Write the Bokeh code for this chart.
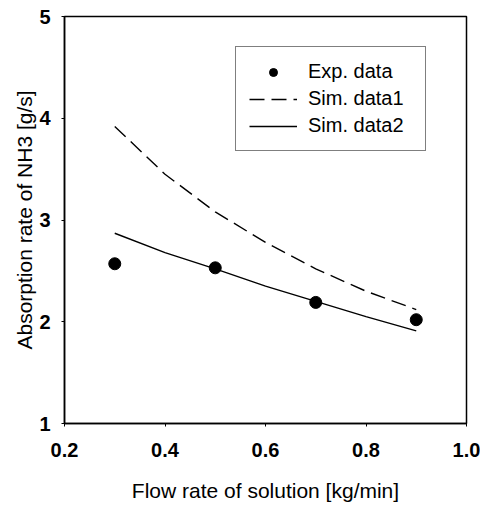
from bokeh.plotting import figure
from bokeh.models import Range1d, Legend, LegendItem, FixedTicker
from bokeh.embed import file_html
from bokeh.resources import INLINE

# Data
exp_x = [0.3, 0.5, 0.7, 0.9]
exp_y = [2.57, 2.53, 2.19, 2.02]
sim_x = [0.3, 0.4, 0.5, 0.6, 0.7, 0.8, 0.9]
sim1_y = [3.92, 3.45, 3.08, 2.78, 2.52, 2.30, 2.12]
sim2_y = [2.87, 2.68, 2.52, 2.35, 2.20, 2.05, 1.91]
x_ticks = [0.2, 0.4, 0.6, 0.8, 1.0]
y_ticks = [1, 2, 3, 4, 5]

FONT = "Liberation Sans"

p = figure(width=480, height=504, output_backend="svg", toolbar_location=None,
           x_range=Range1d(0.2, 1.0), y_range=Range1d(1, 5),
           min_border_left=64, min_border_right=14, min_border_top=16, min_border_bottom=80)
p.xgrid.visible = False
p.ygrid.visible = False
p.outline_line_color = "black"
p.outline_line_width = 1.5
p.background_fill_color = "white"
p.border_fill_color = "white"

p.xaxis.ticker = FixedTicker(ticks=x_ticks)
p.yaxis.ticker = FixedTicker(ticks=y_ticks)
p.xaxis.major_label_overrides = {0.2: "0.2", 0.4: "0.4", 0.6: "0.6", 0.8: "0.8", 1.0: "1.0"}
for ax in (p.xaxis[0], p.yaxis[0]):
    ax.axis_line_color = "black"
    ax.axis_line_width = 1.5
    ax.major_tick_line_color = "black"
    ax.major_tick_in = 0
    ax.major_tick_out = 3
    ax.minor_tick_line_color = None
    ax.major_label_text_font = FONT
    ax.major_label_text_font_size = "20px"
    ax.major_label_text_font_style = "bold"
    ax.major_label_text_color = "black"
    ax.axis_label_text_font = FONT
    ax.axis_label_text_font_size = "21px"
    ax.axis_label_text_font_style = "normal"
    ax.axis_label_text_color = "black"

p.xaxis.axis_label = "Flow rate of solution [kg/min]"
p.yaxis.axis_label = "Absorption rate of NH3 [g/s]"
p.xaxis.major_label_standoff = 16
p.xaxis.axis_label_standoff = 19
p.yaxis.major_label_standoff = 11
p.yaxis.axis_label_standoff = 0

r_exp = p.scatter(exp_x, exp_y, size=12, marker="circle", fill_color="black", line_color="black")
r_s1 = p.line(sim_x, sim1_y, line_color="black", line_width=1.4, line_dash="15 7")
r_s2 = p.line(sim_x, sim2_y, line_color="black", line_width=1.4)

legend = Legend(items=[LegendItem(label="Exp. data", renderers=[r_exp]),
                       LegendItem(label="Sim. data1", renderers=[r_s1]),
                       LegendItem(label="Sim. data2", renderers=[r_s2])],
                location=(171, 272))
legend.border_line_color = "black"
legend.border_line_width = 1.5
legend.background_fill_alpha = 1
legend.label_text_font = FONT
legend.label_text_font_size = "20px"
legend.label_text_color = "black"
legend.glyph_width = 48
legend.label_width = 104
legend.label_standoff = 11
legend.spacing = 4
legend.padding = 13
legend.margin = 0
p.add_layout(legend, "center")

open("out.html", "w").write(file_html(p, INLINE))
